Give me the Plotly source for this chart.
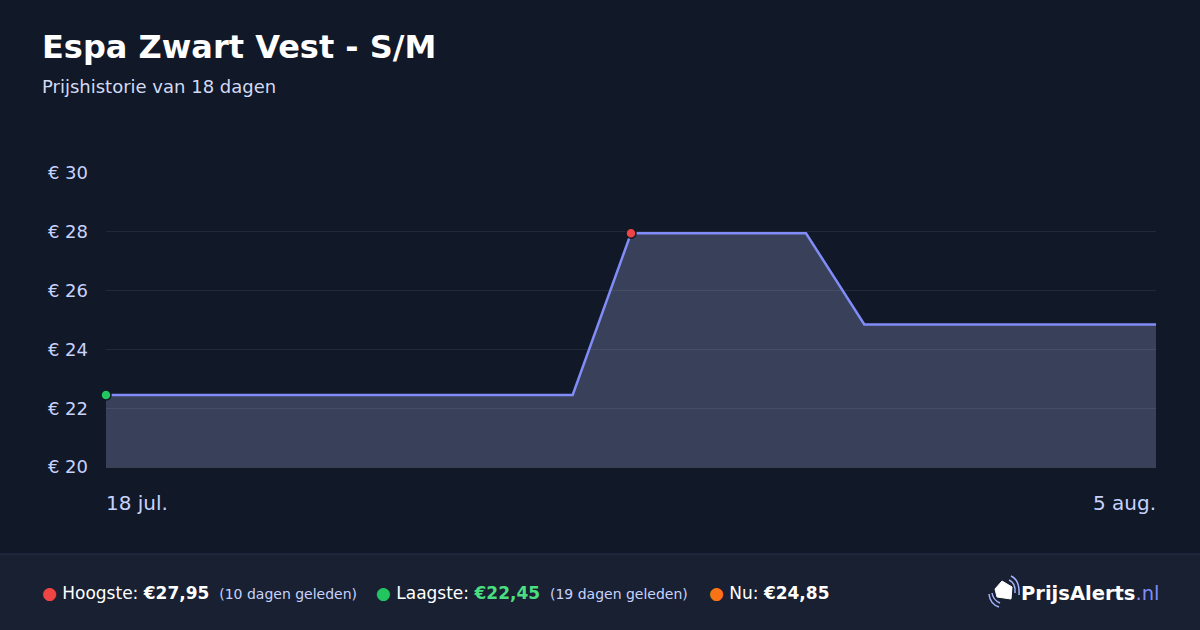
import plotly.graph_objects as go

# price history, one value per day
dates = [
    "2024-07-18", "2024-07-19", "2024-07-20", "2024-07-21", "2024-07-22",
    "2024-07-23", "2024-07-24", "2024-07-25", "2024-07-26", "2024-07-27",
    "2024-07-28", "2024-07-29", "2024-07-30", "2024-07-31", "2024-08-01",
    "2024-08-02", "2024-08-03", "2024-08-04", "2024-08-05",
]
prices = [
    22.45, 22.45, 22.45, 22.45, 22.45, 22.45, 22.45, 22.45, 22.45,
    27.95, 27.95, 27.95, 27.95,
    24.85, 24.85, 24.85, 24.85, 24.85, 24.85,
]
y_ticks = [20, 22, 24, 26, 28, 30]
y_tick_labels = ["€ 20", "€ 22", "€ 24", "€ 26", "€ 28", "€ 30"]
x_labels = ["18 jul.", "5 aug."]

title = "Espa Zwart Vest - S/M"
subtitle = "Prijshistorie van 18 dagen"

BG = "#111827"
FOOTER = "#182031"
LINE = "#818cf8"
TICK = "#c7d2fe"
FONT = "DejaVu Sans"

W, H = 1200, 630
L, R, T, B = 106, 44, 173, 163
PW, PH = W - L - R, H - T - B


def px(x):
    return (x - L) / PW


def py(y):
    return (H - B - y) / PH


i_min = prices.index(min(prices))
i_max = prices.index(max(prices))

fig = go.Figure()

fig.add_trace(go.Scatter(
    x=dates, y=prices, mode="lines",
    line=dict(color=LINE, width=2.5),
    fill="tozeroy", fillcolor="rgba(150,154,205,0.31)",
    hoverinfo="skip",
))
fig.add_trace(go.Scatter(
    x=[dates[i_min], dates[i_max]], y=[prices[i_min], prices[i_max]],
    mode="markers", cliponaxis=False,
    marker=dict(size=10, color=["#22c55e", "#ef4444"],
                line=dict(color=BG, width=1.5)),
    hoverinfo="skip",
))

# footer band
fig.add_shape(type="rect", xref="paper", yref="paper", layer="below",
              x0=px(0), x1=px(W), y0=py(H), y1=py(554),
              fillcolor=FOOTER, line_width=0)
fig.add_shape(type="line", xref="paper", yref="paper",
              x0=px(0), x1=px(W), y0=py(554), y1=py(554),
              line=dict(color="#283150", width=1))

# title and subtitle
fig.add_annotation(text="<b>" + title + "</b>", xref="paper", yref="paper",
                   x=px(40), y=py(47), xanchor="left", yanchor="middle",
                   showarrow=False, font=dict(size=32, color="white", family=FONT))
fig.add_annotation(text=subtitle, xref="paper", yref="paper",
                   x=px(40), y=py(87), xanchor="left", yanchor="middle",
                   showarrow=False, font=dict(size=18, color="#d4daf5", family=FONT))

# x labels at the ends of the axis
fig.add_annotation(text=x_labels[0], xref="x", yref="paper", x=dates[0],
                   y=py(503), xanchor="left", yanchor="middle", showarrow=False,
                   xshift=-2.5, font=dict(size=20, color=TICK, family=FONT))
fig.add_annotation(text=x_labels[1], xref="x", yref="paper", x=dates[-1],
                   y=py(503), xanchor="right", yanchor="middle", showarrow=False,
                   xshift=1.5, font=dict(size=20, color=TICK, family=FONT))

# footer stats
small = "<span style='font-size:14px;color:#c7d2fe'> "
stats = [
    (40, "<span style='color:#ef4444'>●</span> Hoogste: <b>€27,95</b> "
         + small + "(10 dagen geleden)</span>"),
    (374, "<span style='color:#22c55e'>●</span> Laagste: "
          "<b><span style='color:#4ade80'>€22,45</span></b> "
          + small + "(19 dagen geleden)</span>"),
    (707, "<span style='color:#f97316'>●</span> Nu: <b>€24,85</b>"),
]
for x0, txt in stats:
    fig.add_annotation(text=txt, xref="paper", yref="paper", x=px(x0), y=py(593),
                       xanchor="left", yanchor="middle", showarrow=False,
                       font=dict(size=17, color="white", family=FONT))

fig.add_annotation(text="<b>PrijsAlerts</b><span style='color:#818cf8'>.nl</span>",
                   xref="paper", yref="paper", x=px(1161), y=py(593),
                   xanchor="right", yanchor="middle", showarrow=False,
                   font=dict(size=19.5, color="white", family=FONT))

# logo: a tag with signal arcs
tag = [(995, 589), (1002, 581), (1012, 587), (1011, 599), (997, 597)]
path = "M " + " L ".join(f"{px(a)},{py(b)}" for a, b in tag) + " Z"
fig.add_shape(type="path", xref="paper", yref="paper", path=path,
              fillcolor="white", line=dict(color="white", width=1))
for (a0, b0), (ac, bc), (a1, b1) in [
    ((1009, 580), (1016, 583), (1015, 593)),
    ((1011, 576), (1020, 580), (1019, 595)),
    ((992, 593), (993, 600), (1000, 603)),
    ((989, 594), (990, 604), (999, 607)),
]:
    fig.add_shape(type="path", xref="paper", yref="paper",
                  path=f"M {px(a0)},{py(b0)} Q {px(ac)},{py(bc)} {px(a1)},{py(b1)}",
                  line=dict(color="#a5b4fc", width=1.5))

fig.update_xaxes(range=[dates[0], dates[-1]], showgrid=False, showticklabels=False,
                 showline=True, linecolor="rgba(255,255,255,0.18)", linewidth=1,
                 zeroline=False, fixedrange=True)
fig.update_yaxes(range=[20, 30], tickvals=y_ticks, ticktext=y_tick_labels,
                 showgrid=True, gridcolor="rgba(255,255,255,0.08)", gridwidth=1,
                 zeroline=False, ticks="", ticklabelstandoff=17,
                 tickfont=dict(size=18, color=TICK, family=FONT), fixedrange=True)

fig.update_layout(
    width=W, height=H,
    margin=dict(l=L, r=R, t=T, b=B),
    paper_bgcolor=BG, plot_bgcolor=BG,
    showlegend=False,
    font=dict(family=FONT),
)

fig.write_html("out.html", config={"displayModeBar": False},
               post_script="document.body.style.margin='0';")
